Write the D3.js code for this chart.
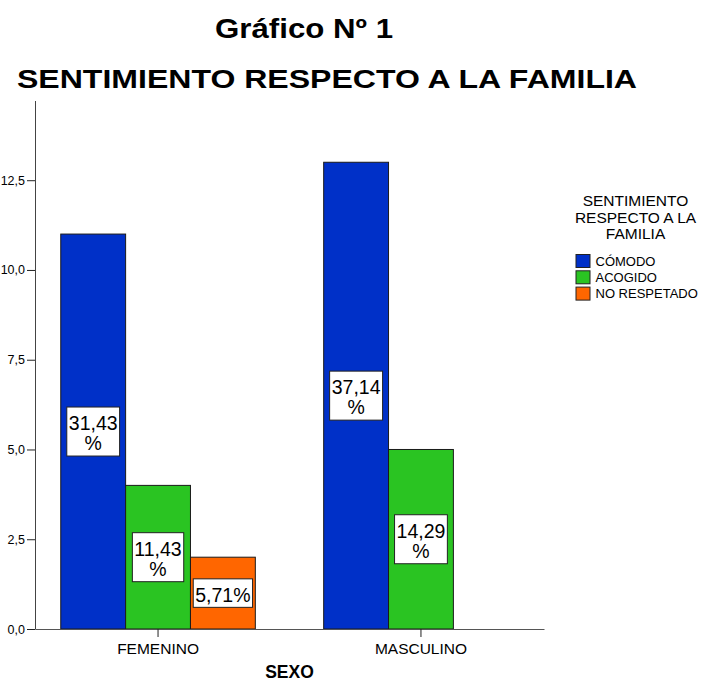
<!DOCTYPE html>
<html>
<head>
<meta charset="utf-8">
<script src="https://cdn.jsdelivr.net/npm/d3@7"></script>
<style>
  body { margin: 0; background: #fff; }
  svg { display: block; font-family: "Liberation Sans", Arial, sans-serif; }
</style>
</head>
<body>
<svg width="703" height="680"></svg>
<script>
// data
var categories = ["FEMENINO", "MASCULINO"];
var series = ["CÓMODO", "ACOGIDO", "NO RESPETADO"];
var comodo = [11, 13];
var acogido = [4, 5];
var noRespetado = [2, 0];
var pctComodo = [31.43, 37.14];
var pctAcogido = [11.43, 14.29];
var pctNoRespetado = [5.71, 0];
var yTicks = [0, 2.5, 5, 7.5, 10, 12.5];
var colors = ["#0030c8", "#2ac422", "#ff6600"];

var counts = [comodo, acogido, noRespetado];
var pcts = [pctComodo, pctAcogido, pctNoRespetado];

var rows = [];
categories.forEach(function(cat, i) {
  series.forEach(function(s, j) {
    rows.push({cat: cat, serie: s, idx: j, value: counts[j][i], pct: pcts[j][i]});
  });
});

var es = d3.formatLocale({decimal: ",", thousands: ".", grouping: [3], currency: ["", ""]});
var fmtTick = es.format(".1f");
var fmtPct = es.format(".2f");

var svg = d3.select("svg");

var x0 = d3.scaleBand().domain(categories).range([35, 544])
           .paddingInner(0.26).paddingOuter(0.098);
var x1 = d3.scaleBand().domain(series).range([0, x0.bandwidth()]);
var y = d3.scaleLinear().domain([0, 14.72]).range([629, 100.5]);
var color = d3.scaleOrdinal().domain(series).range(colors);

// titles
svg.append("text").attr("x", 304).attr("y", 38)
   .attr("text-anchor", "middle").attr("font-size", 27).attr("font-weight", "bold")
   .attr("textLength", 178).attr("lengthAdjust", "spacingAndGlyphs")
   .text("Gráfico Nº 1");
svg.append("text").attr("x", 17).attr("y", 88)
   .attr("font-size", 25.5).attr("font-weight", "bold")
   .attr("textLength", 620).attr("lengthAdjust", "spacingAndGlyphs")
   .text("SENTIMIENTO RESPECTO A LA FAMILIA");

// y axis
var yAxis = svg.append("g").attr("transform", "translate(35,0)")
   .call(d3.axisLeft(y).tickValues(yTicks).tickSize(8).tickSizeOuter(0)
           .tickPadding(2).tickFormat(fmtTick));
yAxis.select(".domain").attr("stroke", "#444");
yAxis.selectAll(".tick line").attr("stroke", "#222");
yAxis.selectAll(".tick text").attr("font-size", 12.5).attr("fill", "#000")
     .attr("font-family", "Liberation Sans, Arial, sans-serif");

// bars
var bars = svg.append("g");
bars.selectAll("rect").data(rows.filter(function(d) { return d.value > 0; }))
  .enter().append("rect")
  .attr("x", function(d) { return x0(d.cat) + x1(d.serie); })
  .attr("y", function(d) { return y(d.value); })
  .attr("width", x1.bandwidth())
  .attr("height", function(d) { return y(0) - y(d.value); })
  .attr("fill", function(d) { return color(d.serie); })
  .attr("stroke", "#1a1a1a").attr("stroke-width", 1);

// x axis (baseline + category ticks)
var xAxis = svg.append("g").attr("transform", "translate(0," + y(0) + ")")
   .call(d3.axisBottom(x0).tickSize(8).tickSizeOuter(0).tickPadding(6));
xAxis.select(".domain").attr("stroke", "#555");
xAxis.selectAll(".tick line").attr("stroke", "#222");
xAxis.selectAll(".tick text").attr("font-size", 15.5).attr("fill", "#000")
     .attr("font-family", "Liberation Sans, Arial, sans-serif");

svg.append("text").attr("x", (x0.range()[0] + x0.range()[1]) / 2).attr("y", 677.5)
   .attr("text-anchor", "middle").attr("font-size", 17.5).attr("font-weight", "bold")
   .text("SEXO");

// value labels: white boxes centred on each bar
var fs = 19.5, lh = 20.5;
var labels = svg.append("g");
rows.filter(function(d) { return d.value > 0; }).forEach(function(d) {
  var cx = x0(d.cat) + x1(d.serie) + x1.bandwidth() / 2;
  var cy = y(d.value / 2);
  var g = labels.append("g");
  var box = g.append("rect").attr("fill", "#fff").attr("stroke", "#222").attr("stroke-width", 1);
  var full = fmtPct(d.pct) + "%";
  var t = g.append("text").attr("text-anchor", "middle").attr("font-size", fs).text(full);
  var lines = [full];
  if (t.node().getComputedTextLength() > x1.bandwidth() - 8) lines = [fmtPct(d.pct), "%"];
  t.text(null);
  lines.forEach(function(l, i) {
    t.append("tspan").attr("x", cx)
     .attr("y", cy + 8.6 + (i - (lines.length - 1) / 2) * lh).text(l);
  });
  var w = t.node().getBBox().width + 4;
  var h = lines.length * lh + 8;
  box.attr("x", cx - w / 2).attr("y", cy - h / 2).attr("width", w).attr("height", h);
});

// legend
var legTitle = ["SENTIMIENTO", "RESPECTO A LA", "FAMILIA"];
var legend = svg.append("g");
legTitle.forEach(function(l, i) {
  legend.append("text").attr("x", 635.5).attr("y", 206 + i * 16.6)
        .attr("text-anchor", "middle").attr("font-size", 15.5).text(l);
});
series.forEach(function(s, i) {
  legend.append("rect").attr("x", 576).attr("y", 254.5 + i * 16.3)
        .attr("width", 14).attr("height", 13)
        .attr("fill", color(s)).attr("stroke", "#222");
  legend.append("text").attr("x", 595.5).attr("y", 265.5 + i * 16.3)
        .attr("font-size", 13).text(s);
});
</script>
</body>
</html>
